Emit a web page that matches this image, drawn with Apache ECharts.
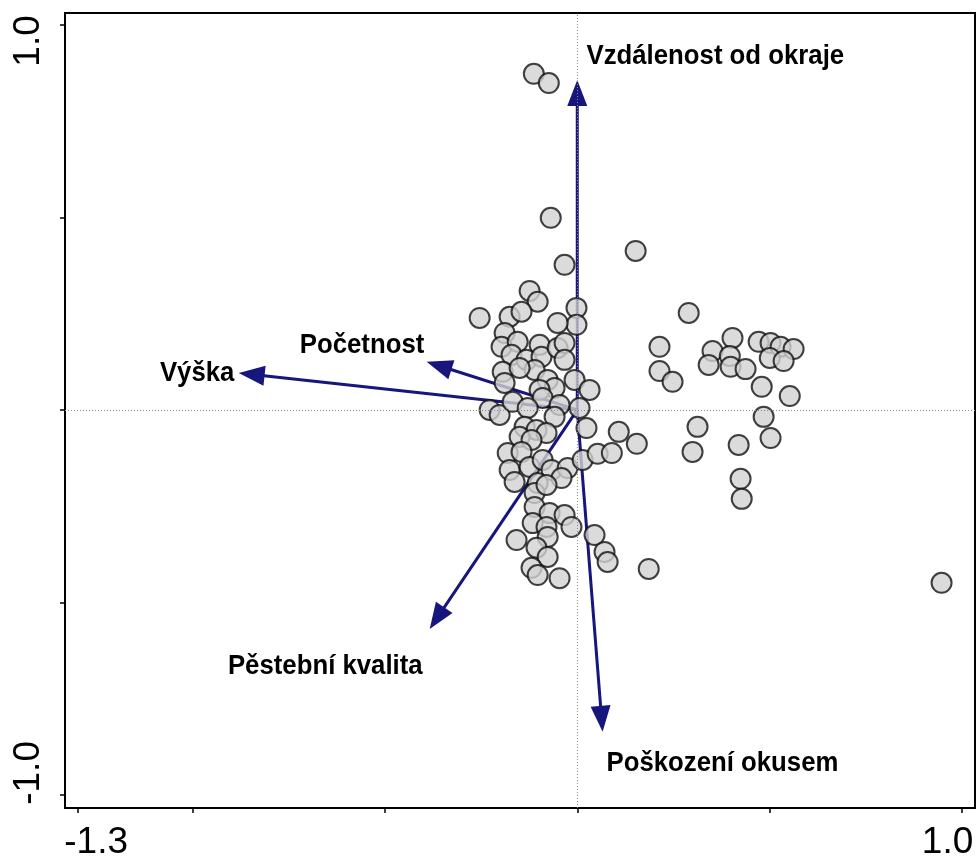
<!DOCTYPE html>
<html>
<head>
<meta charset="utf-8">
<script src="https://cdn.jsdelivr.net/npm/echarts@6/dist/echarts.min.js"></script>
<style>
html, body { margin: 0; padding: 0; background: #fff; }
#chart { width: 978px; height: 861px; }
</style>
</head>
<body>
<div id="chart"></div>
<script>
// axis ticks and the two printed labels on each axis
var xTicks = [-1.3, -1.0, -0.5, 0, 0.5, 1.0];
var yTicks = [-1.0, -0.5, 0, 0.5, 1.0];
var xTickLabels = [-1.3, 1.0];
var yTickLabels = [-1.0, 1.0];

// sample scores (axis 1, axis 2)
var samples = [
    [-0.113, 0.873], [-0.074, 0.849], [-0.069, 0.499], [-0.033, 0.377], [0.152, 0.413],
    [-0.124, 0.309], [-0.103, 0.281], [-0.254, 0.239], [-0.176, 0.242], [-0.145, 0.255],
    [-0.002, 0.265], [-0.002, 0.221], [-0.051, 0.226], [-0.189, 0.200], [-0.197, 0.164],
    [-0.155, 0.177], [-0.098, 0.169], [-0.171, 0.143], [-0.132, 0.130], [-0.093, 0.138],
    [-0.051, 0.161], [-0.033, 0.174], [-0.033, 0.130], [-0.111, 0.104], [-0.194, 0.099],
    [-0.150, 0.109], [-0.077, 0.078], [-0.007, 0.078], [-0.189, 0.070], [-0.059, 0.057],
    [-0.098, 0.052], [0.032, 0.052], [-0.228, 0.000], [-0.202, -0.013], [-0.168, 0.021],
    [-0.090, 0.031], [-0.129, 0.005], [-0.046, 0.013], [-0.059, -0.018], [0.006, 0.005],
    [0.024, -0.047], [-0.137, -0.044], [-0.106, -0.052], [-0.080, -0.060], [-0.150, -0.070],
    [-0.119, -0.078], [-0.181, -0.112], [-0.145, -0.109], [-0.176, -0.156], [-0.124, -0.148],
    [-0.090, -0.130], [-0.067, -0.156], [-0.025, -0.151], [0.014, -0.130], [0.053, -0.114],
    [0.090, -0.112], [-0.163, -0.187], [-0.103, -0.190], [-0.041, -0.177], [-0.111, -0.216],
    [-0.080, -0.195], [-0.111, -0.252], [-0.072, -0.268], [-0.033, -0.273], [-0.015, -0.304],
    [-0.116, -0.294], [-0.080, -0.304], [-0.077, -0.330], [-0.158, -0.338], [-0.106, -0.358],
    [-0.077, -0.382], [-0.119, -0.410], [-0.103, -0.429], [-0.046, -0.437], [0.045, -0.325],
    [0.071, -0.369], [0.079, -0.395], [0.290, 0.252], [0.214, 0.164], [0.214, 0.101],
    [0.248, 0.073], [0.352, 0.153], [0.342, 0.117], [0.404, 0.187], [0.397, 0.140],
    [0.399, 0.112], [0.438, 0.106], [0.472, 0.177], [0.503, 0.174], [0.529, 0.164],
    [0.563, 0.158], [0.501, 0.135], [0.537, 0.127], [0.480, 0.060], [0.553, 0.036],
    [0.485, -0.018], [0.503, -0.073], [0.420, -0.091], [0.313, -0.044], [0.300, -0.109],
    [0.425, -0.179], [0.428, -0.231], [0.186, -0.413], [0.108, -0.057], [0.155, -0.088],
    [0.948, -0.449]
];

// environmental variables, their arrow tips and where their names sit
var variables = ['Vzdálenost od okraje', 'Výška', 'Početnost', 'Pěstební kvalita', 'Poškození okusem'];
var arrowTips = [[0, 0.857], [-0.881, 0.096], [-0.392, 0.125], [-0.384, -0.569], [0.066, -0.836]];
var labelAnchors = [[0.024, 0.919], [-1.086, 0.094], [-0.722, 0.169], [-0.909, -0.665], [0.076, -0.917]];

var navy = '#16167c';
var numFont = 'Liberation Sans, Arial, sans-serif';

// custom series rows: tip x, tip y, label x, label y
var arrowRows = [];
for (var i = 0; i < variables.length; i++) {
    arrowRows.push([arrowTips[i][0], arrowTips[i][1], labelAnchors[i][0], labelAnchors[i][1]]);
}

var chart = echarts.init(document.getElementById('chart'));

var option = {
    animation: false,
    backgroundColor: '#fff',
    grid: {
        left: 65, right: 3, top: 13, bottom: 53,
        show: true, borderColor: '#000', borderWidth: 2
    },
    xAxis: {
        type: 'value',
        min: -1.333, max: 1.035,
        splitLine: { show: false },
        axisLine: { show: true, onZero: false, lineStyle: { color: '#000', width: 2 } },
        axisTick: { show: true, length: 5, customValues: xTicks, lineStyle: { color: '#000', width: 1.5 } },
        axisLabel: {
            customValues: xTickLabels,
            margin: 16,
            formatter: function (v) {
                return v < 0 ? '{l|' + v.toFixed(1) + '}' : '{r|' + v.toFixed(1) + '}';
            },
            rich: {
                l: { fontSize: 37, fontFamily: numFont, color: '#000', padding: [0, 0, 0, 37] },
                r: { fontSize: 37, fontFamily: numFont, color: '#000', padding: [0, 28, 0, 0] }
            }
        }
    },
    yAxis: {
        type: 'value',
        min: -1.034, max: 1.031,
        splitLine: { show: false },
        axisLine: { show: true, onZero: false, lineStyle: { color: '#000', width: 2 } },
        axisTick: { show: true, length: 5, customValues: yTicks, lineStyle: { color: '#000', width: 1.5 } },
        axisLabel: {
            customValues: yTickLabels,
            rotate: 90,
            margin: 18,
            formatter: function (v) {
                return v < 0 ? '{l|' + v.toFixed(1) + '}' : '{r|' + v.toFixed(1) + '}';
            },
            rich: {
                l: { fontSize: 37, fontFamily: numFont, color: '#000', padding: [0, 0, 0, 44] },
                r: { fontSize: 37, fontFamily: numFont, color: '#000', padding: [0, 32, 0, 0] }
            }
        }
    },
    series: [
        {
            // only carries the dotted zero lines
            name: 'zero',
            type: 'line',
            z: 1,
            data: [],
            markLine: {
                silent: true,
                symbol: 'none',
                label: { show: false },
                lineStyle: { color: '#8a8a8a', type: [1, 2], width: 1 },
                data: [{ xAxis: 0 }, { yAxis: 0 }]
            }
        },
        {
            name: 'arrows',
            type: 'custom',
            z: 2,
            silent: true,
            data: arrowRows,
            renderItem: function (params, api) {
                var o = api.coord([0, 0]);
                var t = api.coord([api.value(0), api.value(1)]);
                var lp = api.coord([api.value(2), api.value(3)]);
                var dx = t[0] - o[0], dy = t[1] - o[1];
                var len = Math.sqrt(dx * dx + dy * dy);
                var ux = dx / len, uy = dy / len;
                var hl = 26, hw = 10;
                var bx = t[0] - ux * hl, by = t[1] - uy * hl;
                return {
                    type: 'group',
                    children: [
                        {
                            type: 'line',
                            shape: { x1: o[0], y1: o[1], x2: bx + ux * 3, y2: by + uy * 3 },
                            style: { stroke: navy, lineWidth: 3 }
                        },
                        {
                            type: 'polygon',
                            shape: { points: [[t[0], t[1]], [bx - uy * hw, by + ux * hw], [bx + uy * hw, by - ux * hw]] },
                            style: { fill: navy }
                        },
                        {
                            // names look a bit condensed in the original
                            type: 'text',
                            x: lp[0],
                            y: lp[1],
                            scaleX: 0.92,
                            style: {
                                text: variables[params.dataIndex],
                                fill: '#000',
                                font: 'bold 28px "Liberation Sans", Arial, sans-serif',
                                align: 'left',
                                verticalAlign: 'middle'
                            }
                        }
                    ]
                };
            }
        },
        {
            name: 'samples',
            type: 'scatter',
            z: 3,
            symbol: 'circle',
            symbolSize: 20,
            data: samples,
            itemStyle: {
                color: '#d2d2d2',
                borderColor: '#111',
                borderWidth: 2,
                opacity: 0.8
            }
        }
    ]
};

chart.setOption(option);
</script>
</body>
</html>
